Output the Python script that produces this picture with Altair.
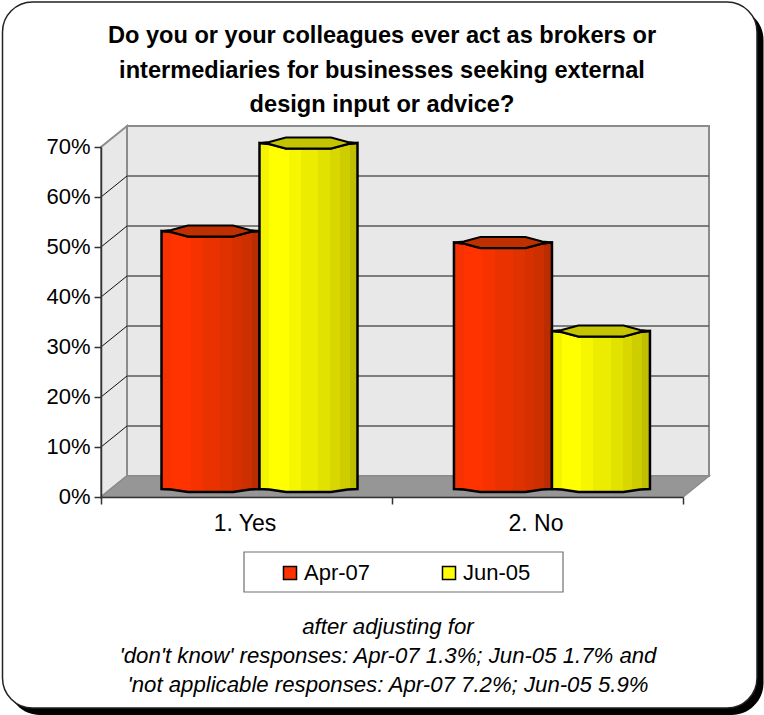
import altair as alt
import pandas as pd

# Survey results, as shares of respondents
categories = ["1. Yes", "2. No"]
series_names = ["Apr-07", "Jun-05"]
apr_07 = [0.511, 0.488]
jun_05 = [0.687, 0.311]
y_ticks = [0, 0.1, 0.2, 0.3, 0.4, 0.5, 0.6, 0.7]

title_text = (
    "Do you or your colleagues ever act as brokers or\n"
    "intermediaries for businesses seeking external\n"
    "design input or advice?"
)
note_text = (
    "after adjusting for\n"
    "'don't know' responses: Apr-07 1.3%; Jun-05 1.7% and\n"
    "'not applicable responses: Apr-07 7.2%; Jun-05 5.9%"
)

FONT = "Liberation Sans"
PLOT_W, PLOT_H = 582, 350
PAD_L, PAD_T = 101, 147
X_MAX, Y_MAX = 2.0, 0.7
PX_X = PLOT_W / X_MAX
PX_Y = PLOT_H / Y_MAX

# Depth of the drawn 3D box, in data units
DEPTH_X = 26 / PX_X
DEPTH_Y = 21 / PX_Y
BAR_W = 98 / PX_X
CAT_CENTRES = [0.5, 1.505]

# Horizontal steps of a cylinder and its faceted end profile
PROFILE_X = [0, 0.1, 0.27, 0.73, 0.9, 1]
CAP_RISE = [v / PX_Y for v in [0, 1, 5.5, 5.5, 1, 0]]
BASE_DROP = [v / PX_Y for v in [2.5, 3, 5.5, 5.5, 3, 2.5]]

x_scale = alt.Scale(domain=[0, X_MAX], nice=False, zero=False)
y_scale = alt.Scale(domain=[0, Y_MAX], nice=False, zero=False)

# Ticks bound the categories; the labels sit halfway between them
x_axis = alt.Axis(
    title=None,
    values=[0, 0.5, 1, 1.5, 2],
    labelExpr=f"datum.value == 0.5 ? '{categories[0]}' : datum.value == 1.5 ? '{categories[1]}' : ''",
    labelFont=FONT, labelFontSize=23, labelColor="black", labelPadding=8.5, labelOffset=-2,
    labelOverlap=False, labelBound=False, labelFlush=False,
    domainColor="#333333", domainWidth=1.5,
    tickColor="#333333", tickWidth=1.5, tickSize=7,
    tickOpacity={"condition": {"test": "datum.value == 0.5 || datum.value == 1.5", "value": 0}, "value": 1},
    grid=False, zindex=1,
)
y_axis = alt.Axis(
    title=None,
    values=y_ticks, format=".0%",
    labelFont=FONT, labelFontSize=22, labelColor="black", labelPadding=4, labelOffset=-1,
    labelOverlap=False, labelBound=False, labelFlush=False,
    domainColor="#333333", domainWidth=1.5,
    tickColor="#333333", tickWidth=1.5, tickSize=7,
    grid=False, zindex=1,
)
X = alt.X("x:Q", scale=x_scale, axis=x_axis)
Y = alt.Y("y:Q", scale=y_scale, axis=y_axis)


def strips(colours, edges):
    """Hard-edged horizontal gradient made of vertical shading bands."""
    stops = []
    for i, colour in enumerate(colours):
        stops.append(alt.GradientStop(color=colour, offset=edges[i]))
        stops.append(alt.GradientStop(color=colour, offset=edges[i + 1]))
    return alt.Gradient(gradient="linear", stops=stops, x1=0, x2=1, y1=0, y2=0)


BAND_EDGES = [0, 0.1, 0.3, 0.42, 0.6, 0.72, 0.82, 0.92, 1]
RED_FILL = strips(
    ["#f53200", "#ff3300", "#f63300", "#ea3200", "#e03100", "#d63000", "#cc3000", "#bb2c00"],
    BAND_EDGES,
)
YELLOW_FILL = strips(
    ["#f4f400", "#ffff00", "#f6f600", "#ecec00", "#e2e200", "#d8d800", "#cdcd00", "#bfbf00"],
    BAND_EDGES,
)
FILLS = [RED_FILL, YELLOW_FILL]
CAP_COLOURS = ["#bf3000", "#c4c400"]
LEGEND_COLOURS = ["#ff3300", "#ffff00"]


def area_layer(rows, **mark_kwargs):
    return alt.Chart(pd.DataFrame(rows)).mark_area(**mark_kwargs).encode(x=X, y=Y, y2="y2:Q")


def segment_layer(rows, **mark_kwargs):
    return alt.Chart(pd.DataFrame(rows)).mark_rule(**mark_kwargs).encode(x=X, x2="x2:Q", y=Y, y2="y2:Q")


def pixel_rect(left, right, top, bottom, **mark_kwargs):
    """Page furniture placed in page pixels rather than on the data scales."""
    return alt.Chart(pd.DataFrame({"a": [0]})).mark_rect(**mark_kwargs).encode(
        x=alt.value(left - PAD_L), x2=alt.value(right - PAD_L),
        y=alt.value(top - PAD_T), y2=alt.value(bottom - PAD_T),
    )


# Page card: black drop shadow with a white rounded panel on top
shadow = pixel_rect(8, 763.5, 8, 715, color="black", cornerRadius=32)
panel = pixel_rect(2.5, 757, 2, 708, fill="white", stroke="#222222", strokeWidth=1.5, cornerRadius=30)

# Walls and floor of the box
side_wall = area_layer(
    [{"x": 0, "y": Y_MAX, "y2": 0}, {"x": DEPTH_X, "y": Y_MAX + DEPTH_Y, "y2": DEPTH_Y}],
    fill="#e8e8e8", stroke="#8c8c8c", strokeWidth=2,
)
back_wall = alt.Chart(
    pd.DataFrame([{"x": DEPTH_X, "x2": X_MAX + DEPTH_X, "y": DEPTH_Y, "y2": Y_MAX + DEPTH_Y}])
).mark_rect(fill="#e8e8e8", stroke="#8c8c8c", strokeWidth=2).encode(x=X, x2="x2:Q", y=Y, y2="y2:Q")
floor = area_layer(
    [
        {"x": 0, "y": 0, "y2": 0},
        {"x": DEPTH_X, "y": DEPTH_Y, "y2": 0},
        {"x": X_MAX, "y": DEPTH_Y, "y2": 0},
        {"x": X_MAX + DEPTH_X, "y": DEPTH_Y, "y2": DEPTH_Y},
    ],
    fill="#969696", stroke="#8c8c8c", strokeWidth=1.5,
)

# Gridlines on the back wall and their diagonals on the side wall
inner_ticks = y_ticks[1:-1]
back_grid = segment_layer(
    [{"x": DEPTH_X, "x2": X_MAX + DEPTH_X, "y": v + DEPTH_Y, "y2": v + DEPTH_Y} for v in inner_ticks],
    color="#5a5a5a", strokeWidth=1.5,
)
side_grid = segment_layer(
    [{"x": 0, "x2": DEPTH_X, "y": v, "y2": v + DEPTH_Y} for v in inner_ticks],
    color="#111111", strokeWidth=1,
)

# Small square marks behind the bars that carry the series colours into the legend
key_rows = []
for c in range(len(categories)):
    key_rows.append({"x": CAT_CENTRES[c], "y": 0.2, "Series": series_names[0]})
    key_rows.append({"x": CAT_CENTRES[c] + 0.1, "y": 0.2, "Series": series_names[1]})
legend_keys = alt.Chart(pd.DataFrame(key_rows)).mark_square(size=4).encode(
    x=X,
    y=Y,
    color=alt.Color(
        "Series:N",
        scale=alt.Scale(domain=series_names, range=LEGEND_COLOURS),
        legend=alt.Legend(
            orient="none", legendX=178, legendY=415, direction="horizontal",
            title=None, columns=2, columnPadding=67, symbolType="square",
            symbolSize=170, symbolStrokeColor="black", symbolStrokeWidth=1.5,
            symbolOpacity=1, labelFont=FONT, labelFontSize=22, labelColor="black",
            labelOffset=3, zindex=1,
        ),
    ),
)

# Legend frame
legend_box = pixel_rect(244, 563, 552, 592, fill="white", stroke="#707070", strokeWidth=1.2)


def cylinder(cat_index, series_index, value):
    left = CAT_CENTRES[cat_index] + DEPTH_X / 2 - BAR_W * (1 - series_index)
    mid = DEPTH_Y / 2
    xs = [left + p * BAR_W for p in PROFILE_X]
    body = area_layer(
        [
            {"x": x, "y": mid + value - r, "y2": mid - d}
            for x, r, d in zip(xs, CAP_RISE, BASE_DROP)
        ],
        fill=FILLS[series_index], stroke="black", strokeWidth=2.5,
    )
    cap = area_layer(
        [
            {"x": x, "y": mid + value + r, "y2": mid + value - r}
            for x, r in zip(xs, CAP_RISE)
        ],
        fill=CAP_COLOURS[series_index], stroke="black", strokeWidth=2,
    )
    return [body, cap]


bars = []
for c in range(len(categories)):
    bars += cylinder(c, 0, apr_07[c])
    bars += cylinder(c, 1, jun_05[c])

title = alt.Chart(pd.DataFrame({"heading": [title_text]})).mark_text(
    font=FONT, fontSize=23.6, fontWeight="bold", color="black",
    lineBreak="\n", lineHeight=34.5, align="center", baseline="middle",
).encode(x=alt.value(382 - PAD_L), y=alt.value(36 - PAD_T), text="heading:N")

note = alt.Chart(pd.DataFrame({"note": [note_text]})).mark_text(
    font=FONT, fontSize=22.2, fontStyle="italic", color="black",
    lineBreak="\n", lineHeight=29, align="center", baseline="middle",
).encode(x=alt.value(388 - PAD_L), y=alt.value(627 - PAD_T), text="note:N")

chart = alt.layer(
    shadow, panel, side_wall, back_wall, floor, back_grid, side_grid,
    legend_keys, legend_box, *bars, title, note,
).resolve_scale(
    x="shared", y="shared"
).properties(
    width=PLOT_W,
    height=PLOT_H,
    padding={"left": PAD_L, "top": PAD_T, "right": 764 - PAD_L - PLOT_W, "bottom": 715 - PAD_T - PLOT_H},
    autosize=alt.AutoSizeParams(type="none"),
    background="white",
).configure_view(stroke=None)

chart.save("out.html", embed_options={"renderer": "svg", "actions": False})
